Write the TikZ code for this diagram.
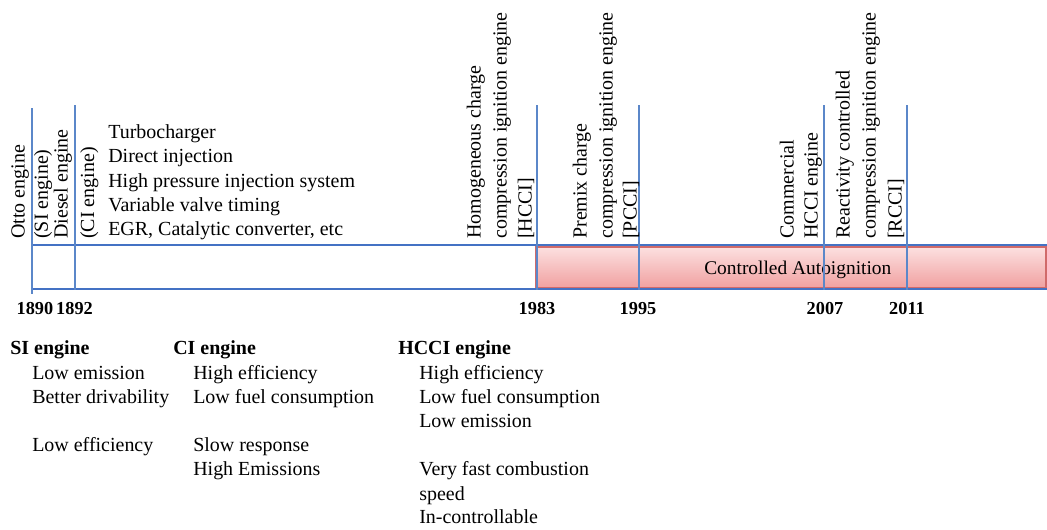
\documentclass[tikz,border=0pt]{standalone}
\usepackage{fontspec}
\setmainfont{Liberation Serif}
\usetikzlibrary{positioning}
\definecolor{barblue}{HTML}{4472C4}
\definecolor{tickblue}{HTML}{5B87C9}
\definecolor{glowtop}{HTML}{FCE0E0}
\definecolor{glowbot}{HTML}{F0A0A0}
\definecolor{glowedge}{HTML}{D06A6A}
\newcommand{\uptext}[3]{\node[vtext] (#1) at (#2,239) {#3};}

\begin{document}
\begin{tikzpicture}[x=0.025cm,y=-0.025cm,font=\fontsize{14.2}{17}\selectfont,
    vtext/.style={rotate=90,anchor=base west,inner sep=0pt},
    item/.style={anchor=base west,inner sep=0pt},
    head/.style={anchor=base west,inner sep=0pt,font=\fontsize{14.2}{17}\selectfont\bfseries},
    year/.style={anchor=base,inner sep=0pt,font=\fontsize{13}{15}\selectfont\bfseries},
    tick/.style={tickblue,line width=1.1pt},
    rail/.style={barblue,line width=1.6pt}]
  \useasboundingbox (0,0) rectangle (1047,529);
  \clip (0,0) rectangle (1047,529);
  \node[draw=glowedge,line width=1pt,top color=glowtop,bottom color=glowbot,
        minimum width=12.75cm,minimum height=1.025cm,inner sep=0pt] (auto) at (791,267.5) {};
  \node[item,font=\fontsize{13.8}{17}\selectfont] (autotext) at (704,274.5) {Controlled Autoignition};
  \draw[rail] (32,245) coordinate (railnw) -- (1047,245) coordinate (railne);
  \draw[rail] (32,289) coordinate (railsw) -- (1047,289) coordinate (railse);
  \draw[tick] (32,108) coordinate (otto) -- (32,294) coordinate (ottob);
  \draw[tick] (75,105) coordinate (diesel) -- (75,290) coordinate (dieselb);
  \draw[tick] (537,105) coordinate (hcci) -- (537,290) coordinate (hccib);
  \draw[tick] (639,105) coordinate (pcci) -- (639,290) coordinate (pccib);
  \draw[tick] (824,105) coordinate (comm) -- (824,290) coordinate (commb);
  \draw[tick] (907,105) coordinate (rcci) -- (907,290) coordinate (rccib);
  \node[year] (y1890) at (35,314) {1890};
  \node[year] (y1892) at (74.5,314) {1892};
  \node[year] (y1983) at (537,314) {1983};
  \node[year] (y1995) at (638,314) {1995};
  \node[year] (y2007) at (825,314) {2007};
  \node[year] (y2011) at (907,314) {2011};
  \uptext{otto1}{24.5}{Otto engine}
  \uptext{otto2}{48}{(SI engine)}
  \uptext{diesel1}{67.5}{Diesel engine}
  \uptext{diesel2}{94}{(CI engine)}
  \uptext{hcci1}{480.5}{Homogeneous charge}
  \uptext{hcci2}{506.5}{compression ignition engine}
  \uptext{hcci3}{531.5}{[HCCI]}
  \uptext{pcci1}{586.5}{Premix charge}
  \uptext{pcci2}{612.5}{compression ignition engine}
  \uptext{pcci3}{636.5}{[PCCI]}
  \uptext{comm1}{793.5}{Commercial}
  \uptext{comm2}{817.5}{HCCI engine}
  \uptext{rcci1}{849.5}{Reactivity controlled}
  \uptext{rcci2}{875.5}{compression ignition engine}
  \uptext{rcci3}{901.5}{[RCCI]}
  \foreach \n/\y/\t in {1/138/Turbocharger,
                        2/162.5/Direct injection,
                        3/187/High pressure injection system,
                        4/211/Variable valve timing,
                        5/235.5/{EGR, Catalytic converter, etc}}
    { \node[item] (tech\n) at (108,\y) {\t}; }
  \node[head] (si) at (10,354) {SI engine};
  \node[head] (ci) at (173,354) {CI engine};
  \node[head] (hc) at (398,354) {HCCI engine};
  \foreach \n/\y/\t in {1/379/Low emission,
                        2/403/Better drivability,
                        4/451.5/Low efficiency}
    { \node[item] (si\n) at (32,\y) {\t}; }
  \foreach \n/\y/\t in {1/379/High efficiency,
                        2/403/Low fuel consumption,
                        4/451.5/Slow response,
                        5/475.5/High Emissions}
    { \node[item] (ci\n) at (193,\y) {\t}; }
  \foreach \n/\y/\t in {1/379/High efficiency,
                        2/403/Low fuel consumption,
                        3/427/Low emission,
                        5/475.5/Very fast combustion,
                        6/500/speed,
                        7/523.5/In-controllable}
    { \node[item] (hc\n) at (419,\y) {\t}; }
\end{tikzpicture}
\end{document}
